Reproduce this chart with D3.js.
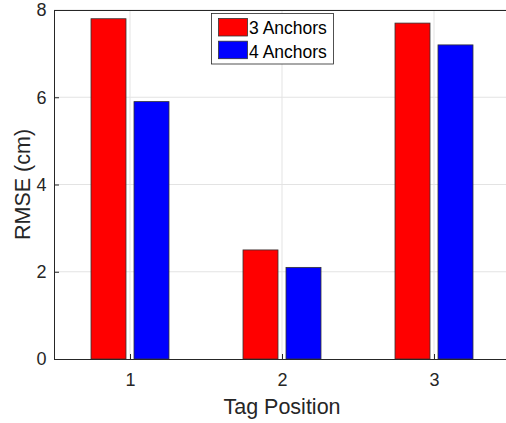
<!DOCTYPE html>
<html><head><meta charset="utf-8">
<script src="https://cdn.jsdelivr.net/npm/d3@7"></script>
<style>body{margin:0;background:#fff;} svg{display:block;font-family:"Liberation Sans",Arial,sans-serif;}</style>
</head><body><svg id="c" width="506" height="423"></svg>
<script>
const categories = [1, 2, 3];
const seriesNames = ["3 Anchors", "4 Anchors"];
const anchors3 = [7.8, 2.5, 7.7];
const anchors4 = [5.9, 2.1, 7.2];
const yTicks = [0, 2, 4, 6, 8];
const colors = ["#ff0000", "#0000ff"];

const svg = d3.select("#c");
const m = {l: 54, t: 10, b: 359, r: 510};
const x = d3.scaleLinear().domain([0.5, 3.5]).range([m.l, m.r]);
const y = d3.scaleLinear().domain([0, 8]).range([m.b, m.t]);

// gridlines
svg.append("g").selectAll("line").data(yTicks.slice(1)).join("line")
  .attr("x1", m.l).attr("x2", m.r).attr("y1", d => y(d)).attr("y2", d => y(d))
  .attr("stroke", "#e3e3e3").attr("stroke-width", 1);
svg.append("g").selectAll("line").data(categories).join("line")
  .attr("x1", d => x(d)).attr("x2", d => x(d)).attr("y1", m.t).attr("y2", m.b)
  .attr("stroke", "#e3e3e3").attr("stroke-width", 1);

// bars
const bw = 35, off = 21.5;
const series = [anchors3, anchors4];
series.forEach((vals, si) => {
  svg.append("g").selectAll("rect").data(vals).join("rect")
    .attr("x", (d, i) => x(categories[i]) + (si === 0 ? -off : off) - bw / 2)
    .attr("y", d => y(d))
    .attr("width", bw)
    .attr("height", d => y(0) - y(d))
    .attr("fill", colors[si])
    .attr("stroke", "#333").attr("stroke-width", 0.8);
});

// axes
const yAxis = d3.axisLeft(y).tickValues(yTicks).tickSize(-5).tickPadding(7.5);
const gy = svg.append("g").attr("transform", `translate(${m.l},0)`).call(yAxis);
const xAxis = d3.axisBottom(x).tickValues(categories).tickSize(-5).tickPadding(14).tickFormat(d3.format("d"));
const gx = svg.append("g").attr("transform", `translate(0,${m.b})`).call(xAxis);
[gy, gx].forEach(g => {
  g.selectAll("path.domain").attr("stroke", "#262626").attr("stroke-width", 1);
  g.selectAll(".tick line").attr("stroke", "#262626");
  g.selectAll(".tick text").attr("fill", "#262626").attr("font-size", 18).attr("font-family", "Liberation Sans, Arial, sans-serif");
});
// top border
svg.append("line").attr("x1", m.l).attr("x2", m.r).attr("y1", m.t + 0.5).attr("y2", m.t + 0.5)
  .attr("stroke", "#262626").attr("stroke-width", 1);

// axis titles
svg.append("text").attr("x", x(2)).attr("y", 413.5).attr("text-anchor", "middle")
  .attr("font-size", 21.5).attr("fill", "#262626").text("Tag Position");
svg.append("text").attr("transform", `translate(29.5,${(m.t + m.b) / 2}) rotate(-90)`)
  .attr("text-anchor", "middle").attr("font-size", 21.5).attr("fill", "#262626").text("RMSE (cm)");

// legend
const lg = svg.append("g");
lg.append("rect").attr("x", 211.5).attr("y", 13.5).attr("width", 122).attr("height", 50.5)
  .attr("fill", "#fff").attr("stroke", "#262626").attr("stroke-width", 0.8);
seriesNames.forEach((n, i) => {
  lg.append("rect").attr("x", 218.5).attr("y", 18.5 + i * 22.7).attr("width", 29).attr("height", 17.5)
    .attr("fill", colors[i]).attr("stroke", "#333").attr("stroke-width", 0.8);
  lg.append("text").attr("x", 249).attr("y", 34.3 + i * 23.4).attr("font-size", 17.5)
    .attr("fill", "#000").text(n);
});
</script></body></html>
